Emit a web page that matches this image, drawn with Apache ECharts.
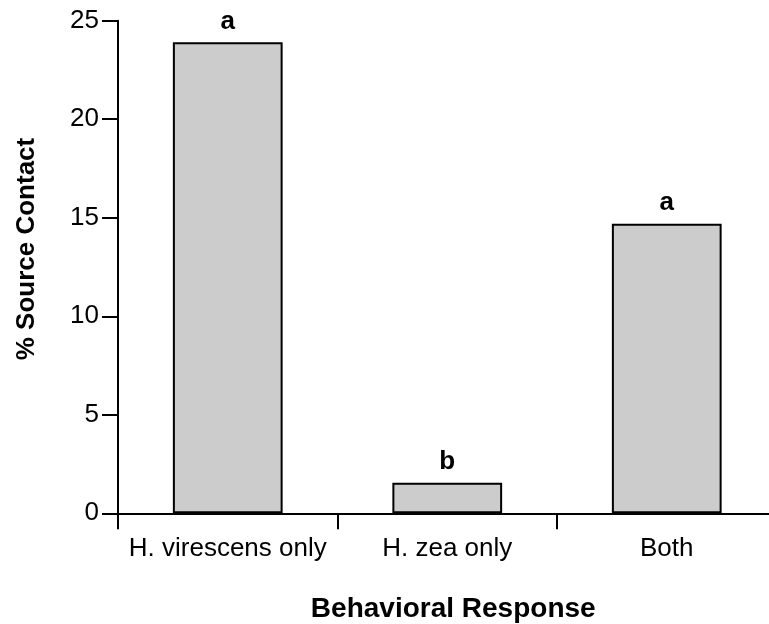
<!DOCTYPE html>
<html>
<head>
<meta charset="utf-8">
<script src="https://cdn.jsdelivr.net/npm/echarts@6/dist/echarts.min.js"></script>
<style>
html,body{margin:0;padding:0;background:#fff;overflow:hidden;}
#chart{width:769px;height:624px;}
</style>
</head>
<body>
<div id="chart"></div>
<script>
const categories = ['H. virescens only', 'H. zea only', 'Both'];
const values = [23.9, 1.55, 14.7];
const letters = ['a', 'b', 'a'];
const yTicks = [0, 5, 10, 15, 20, 25];
const yTitle = '% Source Contact';
const xTitle = 'Behavioral Response';

const font = '"Liberation Sans", Arial, sans-serif';
const chart = echarts.init(document.getElementById('chart'), null, {renderer: 'canvas'});
chart.setOption({
  animation: false,
  backgroundColor: '#fff',
  grid: {left: 118, width: 658.5, top: 20.7, height: 492.6, containLabel: false, outerBoundsMode: 'none'},
  xAxis: {
    type: 'category',
    data: categories,
    name: xTitle,
    nameLocation: 'middle',
    nameGap: 82,
    nameTextStyle: {fontFamily: font, fontWeight: 'bold', fontSize: 28, color: '#000', padding: [0, 0, 0, 12]},
    axisLine: {lineStyle: {color: '#000', width: 2}},
    axisTick: {show: true, alignWithLabel: false, length: 16, lineStyle: {color: '#000', width: 2}},
    axisLabel: {fontFamily: font, fontSize: 26, color: '#000', margin: 23, interval: 0}
  },
  yAxis: {
    type: 'value',
    min: yTicks[0],
    max: yTicks[yTicks.length - 1],
    interval: yTicks[1] - yTicks[0],
    axisLine: {show: true, lineStyle: {color: '#000', width: 2}},
    axisTick: {show: true, length: 16, lineStyle: {color: '#000', width: 2}},
    splitLine: {show: false},
    axisLabel: {fontFamily: font, fontSize: 26, color: '#000', margin: 19}
  },
  graphic: [{
    type: 'text',
    x: 27, y: 249,
    rotation: Math.PI / 2,
    style: {text: yTitle, font: 'bold 26px ' + font, fill: '#000', align: 'center', verticalAlign: 'middle'}
  }],
  series: [{
    type: 'bar',
    data: values,
    barWidth: '50%',
    itemStyle: {color: '#cccccc', borderColor: '#000', borderWidth: 2},
    label: {
      show: true,
      position: 'top',
      distance: 8,
      formatter: p => letters[p.dataIndex],
      fontFamily: font, fontWeight: 'bold', fontSize: 26, color: '#000'
    }
  }]
});
</script>
</body>
</html>
